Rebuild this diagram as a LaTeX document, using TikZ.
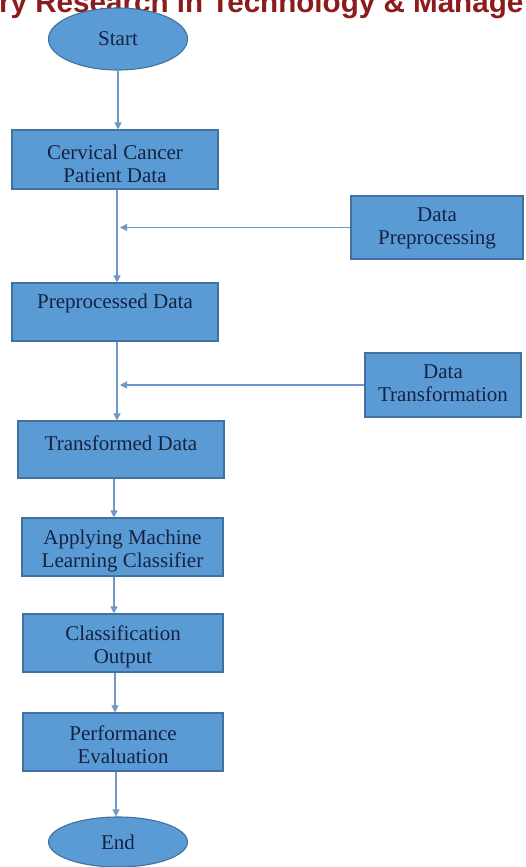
\documentclass[tikz,border=0pt]{standalone}
\usepackage{fontspec}
\setmainfont{Liberation Serif}
\newfontfamily\headfont{Liberation Sans}
\usetikzlibrary{shapes.geometric,arrows.meta}
\definecolor{boxblue}{HTML}{5B9BD5}
\definecolor{boxedge}{HTML}{41719C}
\definecolor{linkblue}{HTML}{6F97C8}
\definecolor{inknavy}{HTML}{142340}
\definecolor{headred}{HTML}{8E1B1B}
\begin{document}
\begin{tikzpicture}[x=1pt,y=-1pt,
  stepbox/.style={rectangle, draw=boxedge, fill=boxblue, line width=1.1pt,
    inner sep=0pt},
  boxtext/.style={text=inknavy, align=center, inner sep=0pt,
    font=\fontsize{21}{23}\selectfont},
  terminal/.style={ellipse, draw=boxedge, fill=boxblue, line width=1.1pt,
    text=inknavy, inner sep=0pt, font=\fontsize{21}{23}\selectfont},
  arr/.style={draw=linkblue, line width=1.2pt,
    -{Triangle[length=7pt,width=7pt]}}]
\useasboundingbox (0,0) rectangle (526,867);
\fill[white] (0,0) rectangle (526,867);
\clip (0,0) rectangle (526,867);

% running head of the page, cut at the top edge
\node[anchor=base west, inner sep=0pt, text=headred,
      font=\headfont\bfseries\fontsize{29.6}{30}\selectfont] (head) at (-1,13)
  {ry Research in Technology \& Manage};

% main column
\node[terminal, minimum width=139pt, minimum height=62pt] (start) at (118,39) {Start};
\node[stepbox, minimum width=206pt, minimum height=59pt,
      label={[boxtext,yshift=-4pt]center:{Cervical Cancer\\Patient Data}}]
  (raw) at (115,159.5) {};
\node[stepbox, minimum width=206pt, minimum height=58pt,
      label={[boxtext,yshift=9pt]center:{Preprocessed Data}}]
  (prep) at (115,312) {};
\node[stepbox, minimum width=206pt, minimum height=57pt,
      label={[boxtext,yshift=6.5pt]center:{Transformed Data}}]
  (trans) at (121,449.5) {};
\node[stepbox, minimum width=201pt, minimum height=58pt,
      label={[boxtext,yshift=-3.5pt]center:{Applying Machine\\Learning Classifier}}]
  (clf) at (122.5,547) {};
\node[stepbox, minimum width=200pt, minimum height=58pt,
      label={[boxtext,yshift=-4pt]center:{Classification\\Output}}]
  (out) at (123,643) {};
\node[stepbox, minimum width=200pt, minimum height=58pt,
      label={[boxtext,yshift=-3pt]center:{Performance\\Evaluation}}]
  (perf) at (123,742) {};
\node[terminal, minimum width=139pt, minimum height=50pt] (end) at (118,842) {End};

% side inputs
\node[stepbox, minimum width=172pt, minimum height=63pt,
      label={[boxtext,yshift=-1pt]center:{Data\\Preprocessing}}]
  (dprep) at (437,227.5) {};
\node[stepbox, minimum width=156pt, minimum height=64pt,
      label={[boxtext,yshift=1.5pt]center:{Data\\Transformation}}]
  (dtrans) at (443,385) {};

% spine positions of the vertical links
\coordinate (s2) at (117,0);
\coordinate (s3) at (114,0);
\coordinate (s4) at (115,0);
\coordinate (s5) at (116,0);
\coordinate (j1) at (120,227.5);
\coordinate (j2) at (120,385);

\draw[arr] (start.south) -- (start.south |- raw.north);
\draw[arr] (raw.south -| s2) -- (prep.north -| s2);
\draw[arr] (prep.south -| s2) -- (trans.north -| s2);
\draw[arr] (trans.south -| s3) -- (clf.north -| s3);
\draw[arr] (clf.south -| s3) -- (out.north -| s3);
\draw[arr] (out.south -| s4) -- (perf.north -| s4);
\draw[arr] (perf.south -| s5) -- (end.north -| s5);

\draw[arr] (dprep.west) -- (j1);
\draw[arr] (dtrans.west) -- (j2);
\end{tikzpicture}
\end{document}
